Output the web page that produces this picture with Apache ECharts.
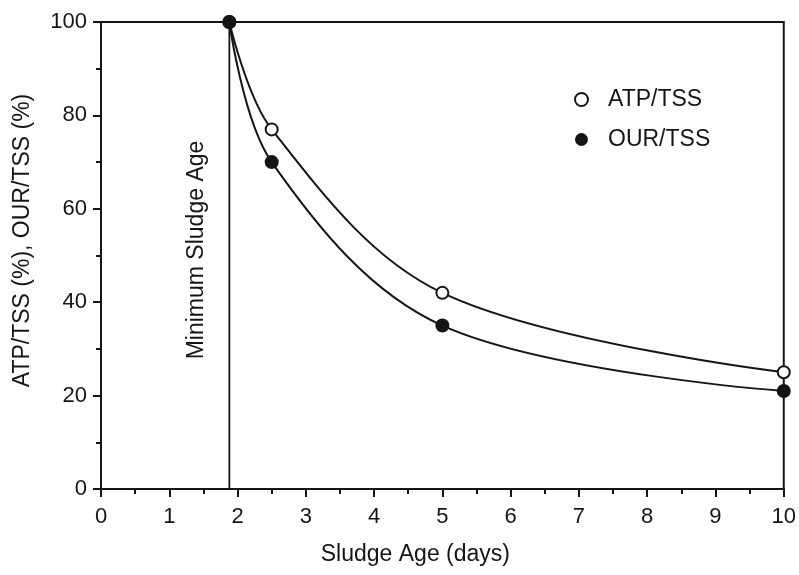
<!DOCTYPE html>
<html>
<head>
<meta charset="utf-8">
<script src="https://cdn.jsdelivr.net/npm/echarts@6/dist/echarts.min.js"></script>
<style>
  html, body { margin: 0; padding: 0; background: #fff; }
  #chart { width: 799px; height: 575px; }
</style>
</head>
<body>
<div id="chart"></div>
<script>
// sludge age (days)
let sludgeAge = [1.88, 2.5, 5, 10];
// ATP/TSS and OUR/TSS (%)
let atpTss = [100, 77, 42, 25];
let ourTss = [100, 70, 35, 21];
// minimum sludge age line
let minAge = 1.88;
let yTicks = [0, 20, 40, 60, 80, 100];

let font = "Liberation Sans";
let ink = "#151515";

let myChart = echarts.init(document.getElementById("chart"));
myChart.setOption({
  animation: false,
  textStyle: { fontFamily: font },
  grid: {
    left: 101,
    right: 12,
    top: 22,
    bottom: 86,
    show: true,
    borderColor: ink,
    borderWidth: 2,
  },
  legend: {
    orient: "vertical",
    left: 569,
    top: 82,
    itemGap: 15,
    itemWidth: 13,
    itemHeight: 13,
    textStyle: { fontSize: 23, color: ink, fontFamily: font, lineHeight: 25, padding: [0, 0, 0, 15] },
    data: [
      { name: "ATP/TSS", icon: "emptyCircle" },
      { name: "OUR/TSS", icon: "circle" },
    ],
  },
  xAxis: {
    type: "value",
    min: 0,
    max: 10,
    interval: 1,
    name: "Sludge Age (days)",
    nameLocation: "middle",
    nameGap: 54,
    nameTextStyle: { fontSize: 23, color: ink, padding: [0, 54, 0, 0] },
    axisLine: { show: true, lineStyle: { color: ink, width: 2 } },
    axisTick: { show: true, length: 8, lineStyle: { color: ink, width: 2 } },
    minorTick: { show: true, splitNumber: 2, length: 5, lineStyle: { color: ink, width: 2 } },
    axisLabel: { fontSize: 22, color: ink, margin: 17 },
    splitLine: { show: false },
  },
  yAxis: {
    type: "value",
    min: yTicks[0],
    max: yTicks[yTicks.length - 1],
    interval: 20,
    name: "ATP/TSS (%), OUR/TSS (%)",
    nameLocation: "middle",
    nameGap: 67,
    nameTextStyle: { fontSize: 23, color: ink, padding: [0, 0, 0, 30] },
    axisLine: { show: true, lineStyle: { color: ink, width: 2 } },
    axisTick: { show: true, length: 8, lineStyle: { color: ink, width: 2 } },
    minorTick: { show: true, splitNumber: 2, length: 5, lineStyle: { color: ink, width: 2 } },
    axisLabel: { fontSize: 22, color: ink, margin: 14 },
    splitLine: { show: false },
  },
  series: [
    {
      name: "ATP/TSS",
      type: "line",
      smooth: 0.35,
      symbol: "emptyCircle",
      symbolSize: 12,
      showAllSymbol: true,
      lineStyle: { color: ink, width: 2 },
      itemStyle: { color: ink, borderColor: ink, borderWidth: 2 },
      data: sludgeAge.map((x, i) => [x, atpTss[i]]),
      z: 3,
    },
    {
      name: "OUR/TSS",
      type: "line",
      smooth: 0.35,
      symbol: "circle",
      symbolSize: 14,
      showAllSymbol: true,
      lineStyle: { color: ink, width: 2 },
      itemStyle: { color: ink },
      data: sludgeAge.map((x, i) => [x, ourTss[i]]),
      z: 4,
    },
    {
      name: "Minimum Sludge Age",
      type: "line",
      symbol: "none",
      lineStyle: { color: ink, width: 1.8 },
      data: [[minAge, yTicks[0]], [minAge, yTicks[yTicks.length - 1]]],
      z: 2,
    },
  ],
  graphic: [
    {
      type: "text",
      x: 197,
      y: 250,
      rotation: Math.PI / 2,
      style: {
        text: "Minimum Sludge Age",
        font: "23px " + font,
        fill: ink,
        textAlign: "center",
        textVerticalAlign: "middle",
      },
    },
  ],
});
</script>
</body>
</html>
